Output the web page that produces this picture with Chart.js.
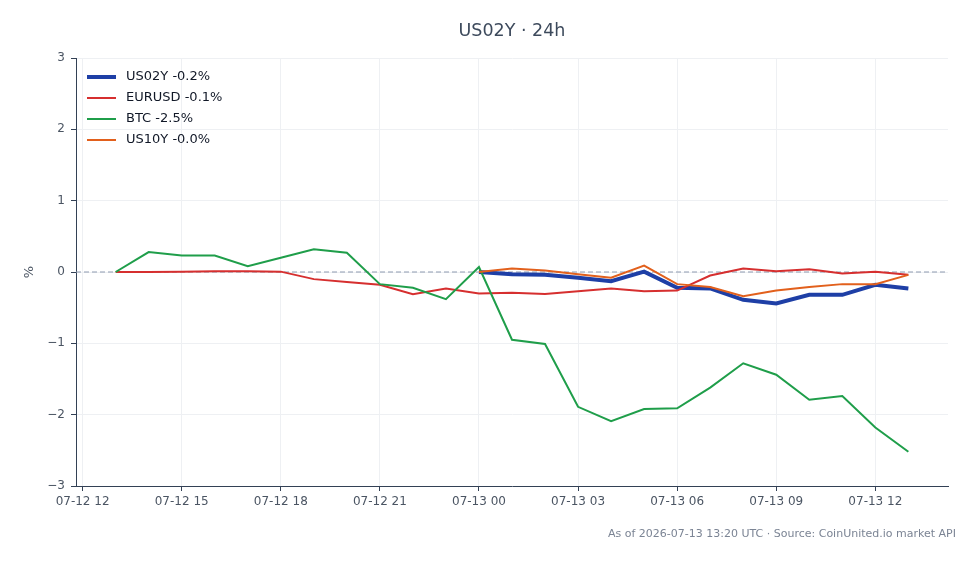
<!DOCTYPE html>
<html>
<head>
<meta charset="utf-8">
<script src="https://cdn.jsdelivr.net/npm/chart.js@4.4.1/dist/chart.umd.min.js"></script>
<style>
  html, body { margin: 0; padding: 0; background: #fff; }
</style>
</head>
<body>
<canvas id="lineChart" width="980" height="564"></canvas>
<script>
// hours counted from 07-12 00:00 UTC
const hours = [13, 14, 15, 16, 17, 18, 19, 20, 21, 22, 23, 24, 25, 26, 27, 28, 29, 30, 31, 32, 33, 34, 35, 36, 37]
const btc = [0, 0.28, 0.23, 0.23, 0.08, 0.2, 0.32, 0.27, -0.17, -0.22, -0.38, 0.07, -0.95, -1.01, -1.89, -2.09, -1.92, -1.91, -1.62, -1.28, -1.44, -1.79, -1.74, -2.18, -2.52]
const eurusd = [0, 0, 0.005, 0.01, 0.01, 0.005, -0.1, -0.14, -0.18, -0.31, -0.23, -0.3, -0.29, -0.31, -0.27, -0.23, -0.27, -0.26, -0.05, 0.05, 0.01, 0.04, -0.02, 0.005, -0.04]

const rateHours = [24, 25, 26, 27, 28, 29, 30, 31, 32, 33, 34, 35, 36, 37]
const us02y = [0, -0.03, -0.04, -0.08, -0.13, 0.005, -0.22, -0.23, -0.39, -0.44, -0.32, -0.32, -0.18, -0.23]
const us10y = [0, 0.05, 0.02, -0.03, -0.08, 0.09, -0.17, -0.21, -0.34, -0.26, -0.21, -0.17, -0.17, -0.04]

const tickHours = [12, 15, 18, 21, 24, 27, 30, 33, 36]
const tickLabels = ['07-12 12', '07-12 15', '07-12 18', '07-12 21', '07-13 00', '07-13 03', '07-13 06', '07-13 09', '07-13 12']
const yTicks = [-3, -2, -1, 0, 1, 2, 3]

const FONT = 'DejaVu Sans'
const AXIS = '#334155'
const LABEL = '#4b5563'

const toPoints = (xs, ys) => xs.map((x, i) => ({ x: x, y: ys[i] }))

// title, dashed zero line, legend in the plot and footer note
const extras = {
  id: 'extras',
  beforeDatasetsDraw (chart) {
    const { ctx, chartArea, scales } = chart
    const py = scales.y.getPixelForValue(0)
    ctx.save()
    ctx.setLineDash([5, 3])
    ctx.strokeStyle = '#8e9ab0'
    ctx.lineWidth = 1
    ctx.beginPath()
    ctx.moveTo(chartArea.left, py)
    ctx.lineTo(chartArea.right, py)
    ctx.stroke()
    ctx.restore()
  },
  afterDraw (chart) {
    const { ctx, chartArea } = chart
    ctx.save()
    // title centred over the plot
    ctx.font = '17.5px "' + FONT + '"'
    ctx.fillStyle = '#3d4a5c'
    ctx.textAlign = 'center'
    ctx.textBaseline = 'middle'
    ctx.fillText('US02Y · 24h', (chartArea.left + chartArea.right) / 2, 31)

    // legend
    ctx.font = '13px "' + FONT + '"'
    ctx.textAlign = 'left'
    chart.data.datasets.forEach((ds, i) => {
      const y = chartArea.top + 19 + i * 21
      ctx.strokeStyle = ds.borderColor
      ctx.lineWidth = ds.borderWidth
      ctx.beginPath()
      ctx.moveTo(chartArea.left + 11, y)
      ctx.lineTo(chartArea.left + 40, y)
      ctx.stroke()
      ctx.fillStyle = '#111827'
      ctx.fillText(ds.label, chartArea.left + 50, y)
    })

    // footer
    ctx.font = '11px "' + FONT + '"'
    ctx.fillStyle = '#7b8494'
    ctx.textAlign = 'right'
    ctx.fillText('As of 2026-07-13 13:20 UTC · Source: CoinUnited.io market API', 956, 534)
    ctx.restore()
  }
}

new Chart(document.getElementById('lineChart'), {
  type: 'line',
  data: {
    datasets: [
      {
        label: 'US02Y -0.2%',
        data: toPoints(rateHours, us02y),
        borderColor: '#1e3fa6',
        backgroundColor: '#1e3fa6',
        borderWidth: 4,
        order: 4
      },
      {
        label: 'EURUSD -0.1%',
        data: toPoints(hours, eurusd),
        borderColor: '#d62f2f',
        backgroundColor: '#d62f2f',
        borderWidth: 2,
        order: 3
      },
      {
        label: 'BTC -2.5%',
        data: toPoints(hours, btc),
        borderColor: '#1f9e4a',
        backgroundColor: '#1f9e4a',
        borderWidth: 2,
        order: 2
      },
      {
        label: 'US10Y -0.0%',
        data: toPoints(rateHours, us10y),
        borderColor: '#e2601c',
        backgroundColor: '#e2601c',
        borderWidth: 2,
        order: 1
      }
    ]
  },
  options: {
    responsive: false,
    animation: false,
    elements: {
      point: { radius: 0 },
      line: { tension: 0 }
    },
    layout: {
      padding: { left: 0, right: 32, top: 58, bottom: 48 }
    },
    plugins: {
      title: { display: false },
      legend: { display: false },
      tooltip: { enabled: false }
    },
    scales: {
      x: {
        type: 'linear',
        min: 11.8,
        max: 38.2,
        afterBuildTicks: scale => {
          scale.ticks = tickHours.map(v => ({ value: v }))
        },
        afterFit: scale => {
          scale.height = 30
        },
        ticks: {
          autoSkip: false,
          maxRotation: 0,
          padding: 4,
          color: LABEL,
          font: { family: FONT, size: 12 },
          callback: value => tickLabels[tickHours.indexOf(value)]
        },
        grid: {
          color: '#eef0f3',
          tickColor: AXIS,
          tickLength: 5
        },
        border: { color: AXIS, width: 1 }
      },
      y: {
        min: -3,
        max: 3,
        afterBuildTicks: scale => {
          scale.ticks = yTicks.map(v => ({ value: v }))
        },
        afterFit: scale => {
          scale.width = 76
        },
        ticks: {
          padding: 6,
          color: LABEL,
          font: { family: FONT, size: 12 },
          callback: value => (value < 0 ? '\u2212' + Math.abs(value) : String(value))
        },
        grid: {
          color: '#eef0f3',
          tickColor: AXIS,
          tickLength: 5
        },
        border: { color: AXIS, width: 1 },
        title: {
          display: true,
          text: '%',
          color: LABEL,
          font: { family: FONT, size: 13 },
          padding: { top: 22, bottom: 0 }
        }
      }
    }
  },
  plugins: [extras]
})
</script>
</body>
</html>
